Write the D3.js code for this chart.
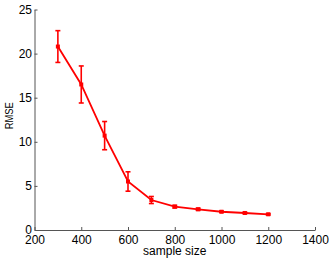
<!DOCTYPE html>
<html>
<head>
<meta charset="utf-8">
<script src="https://cdn.jsdelivr.net/npm/d3@7"></script>
<style>
  body { margin: 0; background: #fff; }
  svg text { font-family: "Liberation Sans", Arial, sans-serif; }
</style>
</head>
<body>
<div id="chart"></div>
<script>
// sample sizes and RMSE with error (half-length of bar)
const sampleSize = [300, 400, 500, 600, 700, 800, 900, 1000, 1100, 1200];
const rmse = [20.8, 16.5, 10.7, 5.5, 3.4, 2.65, 2.35, 2.07, 1.93, 1.78];
const rmseErr = [1.8, 2.1, 1.6, 1.1, 0.4, 0.15, 0.12, 0.08, 0.08, 0.08];
const xTicks = [200, 400, 600, 800, 1000, 1200, 1400];
const yTicks = [0, 5, 10, 15, 20, 25];

const width = 332, height = 261;
const margin = { left: 34.5, right: 17, top: 9.5, bottom: 31 };

const svg = d3.select("#chart")
    .append("svg")
    .attr("width", width)
    .attr("height", height);

const x = d3.scaleLinear()
    .domain([200, 1400])
    .range([margin.left, width - margin.right]);

const y = d3.scaleLinear()
    .domain([0, 25])
    .range([height - margin.bottom, margin.top]);

const xAxis = d3.axisBottom(x).tickValues(xTicks).tickFormat(d3.format("d"))
    .tickSizeInner(-3).tickSizeOuter(0).tickPadding(5.5);
const yAxis = d3.axisLeft(y).tickValues(yTicks).tickFormat(d3.format("d"))
    .tickSizeInner(-3).tickSizeOuter(0).tickPadding(2.5);

const gx = svg.append("g")
    .attr("transform", "translate(0," + (height - margin.bottom) + ")")
    .call(xAxis);
const gy = svg.append("g")
    .attr("transform", "translate(" + margin.left + ",0)")
    .call(yAxis);

[gx, gy].forEach(g => {
    g.select(".domain").attr("stroke", "#555").attr("stroke-width", 1);
    g.selectAll(".tick line").attr("stroke", "#555");
    g.selectAll(".tick text").attr("fill", "#000").style("font-size", "12px");
});

svg.append("text")
    .attr("x", (x(200) + x(1400)) / 2)
    .attr("y", 255)
    .attr("text-anchor", "middle")
    .style("font-size", "12px")
    .text("sample size");

svg.append("text")
    .attr("transform", "translate(13.3,115.7) rotate(-90)")
    .attr("text-anchor", "middle")
    .attr("textLength", 27)
    .attr("lengthAdjust", "spacingAndGlyphs")
    .style("font-size", "11px")
    .text("RMSE");

const red = "#ff0000";
const pts = sampleSize.map((s, i) => ({ s, v: rmse[i], e: rmseErr[i] }));

svg.append("path")
    .datum(pts)
    .attr("fill", "none")
    .attr("stroke", red)
    .attr("stroke-width", 1.8)
    .attr("d", d3.line().x(d => x(d.s)).y(d => y(d.v)));

const eb = svg.append("g").attr("stroke", red).attr("stroke-width", 1.6);
eb.selectAll("line.bar")
    .data(pts)
    .join("line")
    .attr("class", "bar")
    .attr("x1", d => x(d.s)).attr("x2", d => x(d.s))
    .attr("y1", d => y(d.v - d.e)).attr("y2", d => y(d.v + d.e));
eb.selectAll("line.top")
    .data(pts)
    .join("line")
    .attr("class", "top")
    .attr("x1", d => x(d.s) - 2.5).attr("x2", d => x(d.s) + 2.5)
    .attr("y1", d => y(d.v + d.e)).attr("y2", d => y(d.v + d.e));
eb.selectAll("line.bot")
    .data(pts)
    .join("line")
    .attr("class", "bot")
    .attr("x1", d => x(d.s) - 2.5).attr("x2", d => x(d.s) + 2.5)
    .attr("y1", d => y(d.v - d.e)).attr("y2", d => y(d.v - d.e));

svg.selectAll("rect.mk")
    .data(pts)
    .join("rect")
    .attr("class", "mk")
    .attr("x", d => x(d.s) - 2)
    .attr("y", d => y(d.v) - 2)
    .attr("width", 4)
    .attr("height", 4)
    .attr("fill", red);
</script>
</body>
</html>
